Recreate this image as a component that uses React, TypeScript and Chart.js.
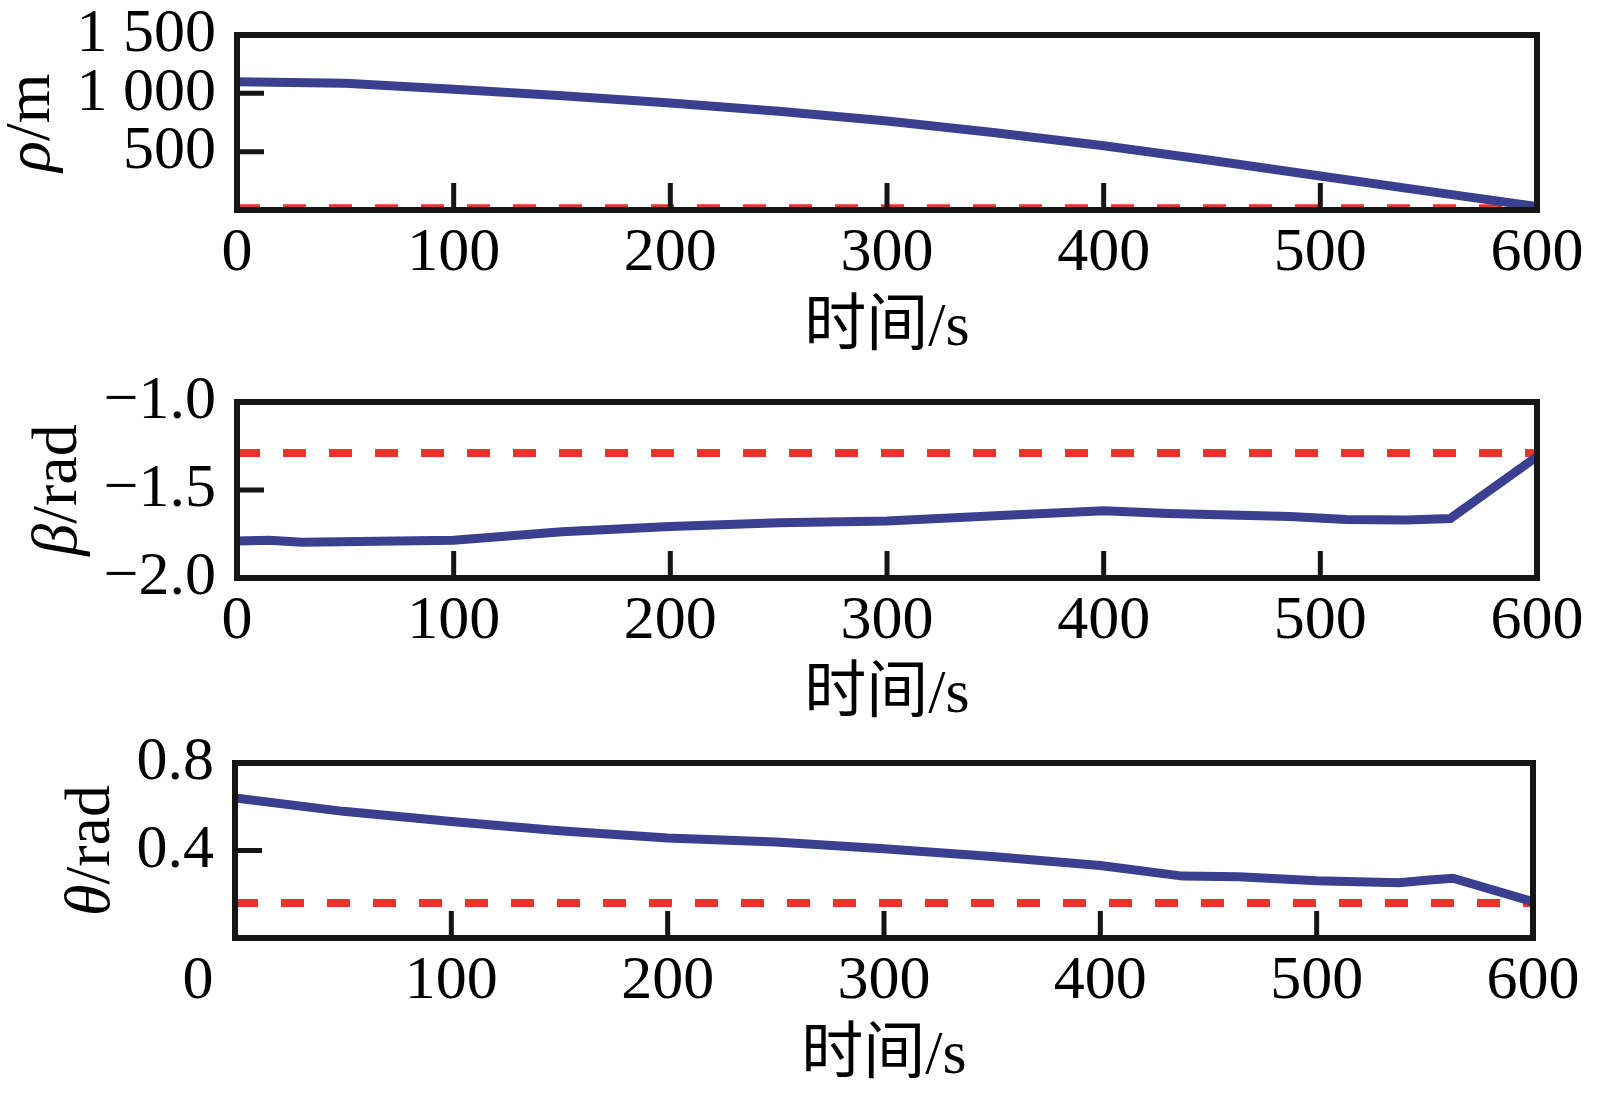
import React, { useEffect, useRef } from "react";
import { Chart, registerables } from "chart.js";

Chart.register(...registerables);

// shared time axis
const timeTicks = [0, 100, 200, 300, 400, 500, 600];
const timeTitle = "时间/s";

// ρ panel
const rhoTime = [0, 50, 100, 150, 200, 250, 300, 350, 400, 450, 500, 550, 600];
const rhoValues = [1100, 1086, 1035, 980, 918, 846, 762, 662, 550, 425, 292, 160, 30];
const rhoTarget = 15;
const rhoTicks = [0, 500, 1000, 1500];

// β panel
const betaTime = [0, 15, 30, 100, 150, 200, 250, 300, 350, 400, 430, 486, 512, 540, 560, 600];
const betaValues = [-1.79, -1.785, -1.797, -1.786, -1.737, -1.708, -1.686, -1.676, -1.646, -1.618, -1.633, -1.65, -1.667, -1.67, -1.662, -1.31];
const betaTarget = -1.29;
const betaTicks = [-2, -1.5, -1];

// θ panel
const thetaTime = [0, 50, 100, 150, 200, 250, 300, 350, 400, 438, 464, 500, 538, 552, 563, 600];
const thetaValues = [0.64, 0.579, 0.533, 0.49, 0.457, 0.439, 0.408, 0.373, 0.331, 0.283, 0.28, 0.262, 0.253, 0.265, 0.273, 0.166];
const thetaTarget = 0.16;
const thetaTicks = [0, 0.4, 0.8];

const BLUE = "#3a3f8f";
const RED = "#e8342b";
const SERIF = "'Liberation Serif', 'Times New Roman', 'Noto Sans CJK SC', serif";
const TICK_FONT = 62;
const TITLE_FONT = 62;
const YTITLE_FONT = 64;
const X_TICK_PAD = 7;
const Y_TICK_PAD = 21;

interface PanelProps {
  top: number;
  height: number;
  plotTop: number;
  plotBottom: number;
  plotLeft: number;
  plotRight: number;
  time: number[];
  values: number[];
  target: number;
  yTicks: number[];
  yFormat: (v: number) => string;
  symbol: string;
  unit: string;
  zeroShift?: number;
}

const framePlugin = {
  id: "frame",
  afterDatasetsDraw(chart: any, _args: any, opts: any) {
    const { ctx, chartArea, scales } = chart;
    const { left, right, top, bottom } = chartArea;
    const xs = scales.x;
    const ys = scales.y;
    ctx.save();
    ctx.strokeStyle = "#151515";
    ctx.lineWidth = 6;
    ctx.strokeRect(left, top, right - left, bottom - top);
    // inward ticks
    ctx.beginPath();
    xs.ticks.forEach((t: any) => {
      if (t.value <= xs.min || t.value >= xs.max) return;
      const px = xs.getPixelForValue(t.value);
      ctx.moveTo(px, bottom);
      ctx.lineTo(px, bottom - 27);
    });
    ys.ticks.forEach((t: any) => {
      if (t.value <= ys.min || t.value >= ys.max) return;
      const py = ys.getPixelForValue(t.value);
      ctx.moveTo(left, py);
      ctx.lineTo(left + 27, py);
    });
    ctx.lineWidth = 5;
    ctx.stroke();

    // y title, italic symbol + upright unit
    ctx.fillStyle = "#000";
    ctx.font = `${TICK_FONT}px ${SERIF}`;
    let maxW = 0;
    ys.ticks.forEach((t: any) => {
      const w = ctx.measureText(String(t.label ?? "")).width;
      if (w > maxW) maxW = w;
    });
    const baseX = left - Y_TICK_PAD - maxW - 28;
    const cy = (top + bottom) / 2;
    const symFont = `italic ${YTITLE_FONT}px ${SERIF}`;
    const unitFont = `${YTITLE_FONT}px ${SERIF}`;
    ctx.font = symFont;
    const w1 = ctx.measureText(opts.symbol).width;
    ctx.font = unitFont;
    const w2 = ctx.measureText(opts.unit).width;
    ctx.translate(baseX, cy);
    ctx.rotate(-Math.PI / 2);
    ctx.textBaseline = "alphabetic";
    ctx.textAlign = "left";
    const start = -(w1 + w2) / 2;
    ctx.font = symFont;
    ctx.fillText(opts.symbol, start, 0);
    ctx.font = unitFont;
    ctx.fillText(opts.unit, start + w1, 0);
    ctx.restore();

    // shifted zero label on the time axis
    if (opts.zeroShift) {
      ctx.save();
      ctx.font = `${TICK_FONT}px ${SERIF}`;
      ctx.fillStyle = "#000";
      ctx.textAlign = "center";
      ctx.textBaseline = "middle";
      ctx.fillText("0", xs.getPixelForValue(0) + opts.zeroShift, bottom + X_TICK_PAD + (TICK_FONT * 1.2) / 2);
      ctx.restore();
    }
  },
};

const Panel: React.FC<PanelProps> = (p) => {
  const canvasRef = useRef<HTMLCanvasElement>(null);

  useEffect(() => {
    const ctx = canvasRef.current?.getContext("2d");
    if (!ctx) return;
    const chart = new Chart(ctx, {
      type: "line",
      data: {
        datasets: [
          {
            data: p.time.map((t, i) => ({ x: t, y: p.values[i] })),
            borderColor: BLUE,
            borderWidth: 9,
            pointRadius: 0,
            tension: 0,
          },
          {
            data: [
              { x: timeTicks[0], y: p.target },
              { x: timeTicks[timeTicks.length - 1], y: p.target },
            ],
            borderColor: RED,
            borderWidth: 8,
            borderDash: [23, 23],
            pointRadius: 0,
          },
        ],
      },
      options: {
        animation: false,
        responsive: false,
        devicePixelRatio: 1,
        layout: { padding: { top: p.plotTop, right: 1604 - p.plotRight, left: 0, bottom: 0 } },
        plugins: {
          legend: { display: false },
          tooltip: { enabled: false },
          frame: { symbol: p.symbol, unit: p.unit, zeroShift: p.zeroShift ?? 0 },
        } as any,
        scales: {
          x: {
            type: "linear",
            min: timeTicks[0],
            max: timeTicks[timeTicks.length - 1],
            afterBuildTicks: (s: any) => {
              s.ticks = timeTicks.map((v) => ({ value: v }));
            },
            grid: { display: false, drawTicks: false },
            border: { display: false },
            ticks: {
              color: "#000",
              font: { family: SERIF, size: TICK_FONT },
              padding: X_TICK_PAD,
              maxRotation: 0,
              autoSkip: false,
              callback: (v: any) => (p.zeroShift && Number(v) === 0 ? "" : String(v)),
            },
            title: {
              display: true,
              text: timeTitle,
              color: "#000",
              font: { family: SERIF, size: TITLE_FONT },
              padding: { top: 0, bottom: 0 },
            },
            afterFit: (s: any) => {
              s.height = p.height - p.plotBottom;
              s.paddingLeft = 0;
              s.paddingRight = 0;
            },
          },
          y: {
            type: "linear",
            min: p.yTicks[0],
            max: p.yTicks[p.yTicks.length - 1],
            afterBuildTicks: (s: any) => {
              s.ticks = p.yTicks.map((v) => ({ value: v }));
            },
            grid: { display: false, drawTicks: false },
            border: { display: false },
            ticks: {
              color: "#000",
              font: { family: SERIF, size: TICK_FONT },
              padding: Y_TICK_PAD,
              autoSkip: false,
              callback: (v: any) => p.yFormat(Number(v)),
            },
            afterFit: (s: any) => {
              s.width = p.plotLeft;
              s.paddingTop = 0;
              s.paddingBottom = 0;
            },
          },
        },
      },
      plugins: [framePlugin],
    });
    return () => chart.destroy();
  }, []);

  return (
    <canvas
      ref={canvasRef}
      width={1604}
      height={p.height}
      style={{ position: "absolute", left: 0, top: p.top, width: 1604, height: p.height }}
    />
  );
};

const fmtRho = (v: number) =>
  v === 0 ? "" : v >= 1000 ? `${Math.floor(v / 1000)} ${String(v % 1000).padStart(3, "0")}` : String(v);
const fmtBeta = (v: number) => v.toFixed(1).replace("-", "\u2212");
const fmtTheta = (v: number) => (v === 0 ? "" : v.toFixed(1));

export default function App() {
  return (
    <div style={{ position: "absolute", left: 0, top: 0, width: 1604, height: 1099, background: "#fff" }}>
      <Panel top={0} height={366} plotTop={35} plotBottom={210} plotLeft={237} plotRight={1537}
        time={rhoTime} values={rhoValues} target={rhoTarget} yTicks={rhoTicks} yFormat={fmtRho}
        symbol="ρ" unit="/m" />
      <Panel top={366} height={367} plotTop={36} plotBottom={212} plotLeft={237} plotRight={1537}
        time={betaTime} values={betaValues} target={betaTarget} yTicks={betaTicks} yFormat={fmtBeta}
        symbol="β" unit="/rad" />
      <Panel top={733} height={361} plotTop={30} plotBottom={205} plotLeft={235} plotRight={1533}
        time={thetaTime} values={thetaValues} target={thetaTarget} yTicks={thetaTicks} yFormat={fmtTheta}
        symbol="θ" unit="/rad" zeroShift={-37} />
    </div>
  );
}
